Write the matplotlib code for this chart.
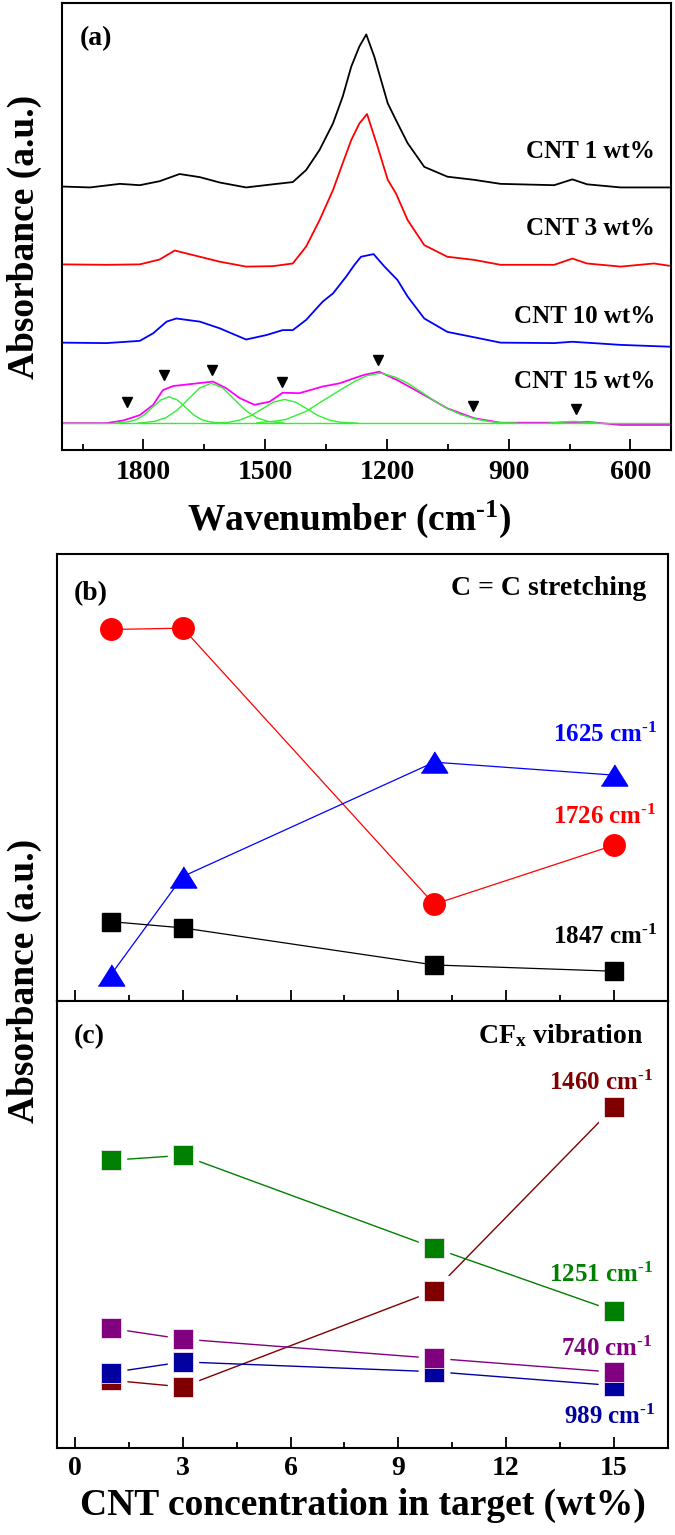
import matplotlib.pyplot as plt
from matplotlib.ticker import MultipleLocator

plt.rcParams['font.family'] = 'Liberation Serif'
plt.rcParams['font.weight'] = 'bold'
plt.rcParams['mathtext.fontset'] = 'custom'
plt.rcParams['mathtext.rm'] = 'Liberation Serif:bold'
plt.rcParams['mathtext.it'] = 'Liberation Serif:bold'
plt.rcParams['mathtext.bf'] = 'Liberation Serif:bold'

# ---- panel (a): FTIR spectra (absorbance, a.u., offset as drawn) ----
wn_1 = [2000, 1932, 1858, 1809, 1760, 1711, 1661, 1612, 1547, 1481, 1432, 1399, 1366, 1333,
        1309, 1288, 1268, 1251, 1231, 1198, 1178, 1149, 1108, 1051, 985, 920, 788, 743, 707, 624, 505]
abs_1 = [0.589, 0.587, 0.595, 0.592, 0.601, 0.617, 0.610, 0.598, 0.587, 0.594, 0.599, 0.626, 0.671, 0.730,
         0.790, 0.857, 0.902, 0.929, 0.879, 0.775, 0.738, 0.686, 0.633, 0.611, 0.604, 0.595, 0.592, 0.605, 0.594, 0.587, 0.587]

wn_3 = [2000, 1891, 1809, 1760, 1723, 1661, 1612, 1547, 1481, 1432, 1399, 1366, 1333, 1309, 1288,
        1268, 1249, 1223, 1198, 1178, 1149, 1108, 1051, 985, 920, 788, 743, 707, 624, 542, 505]
abs_3 = [0.415, 0.414, 0.415, 0.426, 0.446, 0.432, 0.421, 0.410, 0.411, 0.417, 0.455, 0.514, 0.581, 0.641, 0.693,
         0.730, 0.751, 0.678, 0.604, 0.574, 0.514, 0.458, 0.432, 0.425, 0.414, 0.414, 0.428, 0.417, 0.410, 0.417, 0.412]

wn_10 = [2000, 1891, 1809, 1776, 1743, 1719, 1661, 1612, 1547, 1497, 1457, 1432, 1399, 1358, 1333, 1301,
         1280, 1264, 1233, 1206, 1174, 1149, 1108, 1051, 985, 920, 788, 743, 624, 505]
abs_10 = [0.240, 0.239, 0.244, 0.261, 0.287, 0.294, 0.287, 0.272, 0.247, 0.257, 0.268, 0.268, 0.291, 0.332, 0.350, 0.387,
          0.414, 0.432, 0.438, 0.410, 0.380, 0.343, 0.294, 0.264, 0.252, 0.240, 0.239, 0.242, 0.235, 0.231]

wn_15 = [2000, 1891, 1850, 1809, 1776, 1752, 1727, 1678, 1629, 1596, 1563, 1526, 1489, 1457, 1416, 1358,
         1317, 1276, 1256, 1219, 1174, 1116, 1051, 985, 920, 788, 707, 624, 505]
abs_15 = [0.060, 0.060, 0.066, 0.078, 0.101, 0.134, 0.143, 0.148, 0.153, 0.138, 0.116, 0.101, 0.108, 0.128, 0.127, 0.142,
          0.149, 0.162, 0.168, 0.175, 0.156, 0.127, 0.093, 0.071, 0.061, 0.061, 0.063, 0.056, 0.056]

# fitted components of the CNT 15 wt% spectrum
base_wn = [2000, 500]
base_abs = [0.060, 0.060]
fit_wn = [
    [1867, 1837, 1817, 1797, 1777, 1757, 1737, 1717, 1697, 1677, 1657, 1637, 1607],
    [1813, 1773, 1745, 1717, 1689, 1661, 1633, 1605, 1577, 1549, 1521, 1493, 1453],
    [1632, 1590, 1562, 1535, 1507, 1480, 1452, 1425, 1397, 1370, 1342, 1315, 1272],
    [1520, 1480, 1450, 1400, 1358, 1317, 1280, 1250, 1215, 1180, 1150, 1116, 1080, 1051, 1020, 985, 950, 920, 880],
    [800, 760, 740, 720, 680],
]
fit_abs = [
    [0.060, 0.063, 0.068, 0.079, 0.096, 0.112, 0.119, 0.112, 0.096, 0.079, 0.068, 0.063, 0.060],
    [0.060, 0.064, 0.072, 0.089, 0.114, 0.139, 0.149, 0.139, 0.114, 0.089, 0.072, 0.064, 0.060],
    [0.060, 0.062, 0.067, 0.077, 0.092, 0.107, 0.113, 0.107, 0.092, 0.077, 0.067, 0.062, 0.060],
    [0.061, 0.064, 0.068, 0.086, 0.110, 0.133, 0.153, 0.166, 0.172, 0.163, 0.150, 0.130, 0.108, 0.093, 0.080, 0.070, 0.064, 0.061, 0.060],
    [0.060, 0.063, 0.064, 0.063, 0.060],
]
mark_wn = [1840, 1750, 1630, 1459, 1221, 987, 734]
mark_abs = [0.108, 0.168, 0.179, 0.153, 0.201, 0.098, 0.092]

# ---- panels (b) and (c): band absorbance vs CNT content ----
cnt = [1, 3, 10, 15]
b_1726 = [0.831, 0.834, 0.216, 0.348]
b_1625 = [0.058, 0.278, 0.534, 0.505]
b_1847 = [0.177, 0.163, 0.080, 0.066]

c_1460 = [0.151, 0.136, 0.351, 0.762]
c_989 = [0.168, 0.192, 0.170, 0.139]
c_740 = [0.267, 0.243, 0.200, 0.169]
c_1251 = [0.643, 0.654, 0.447, 0.306]

W, H = 675, 1535
fig = plt.figure(figsize=(W / 100, H / 100), dpi=100)

INV_CM = r'cm$^{\text{-1}}$'


def rect(x0, y0, x1, y1):
    return [x0 / W, 1 - y1 / H, (x1 - x0) / W, (y1 - y0) / H]


def frame(ax):
    for s in ax.spines.values():
        s.set_linewidth(1.5)
    ax.tick_params(axis='x', which='both', direction='in', top=False, labelsize=20, width=1.3)
    ax.tick_params(axis='x', which='major', length=8)
    ax.tick_params(axis='x', which='minor', length=4)
    ax.set_yticks([])


# (a)
ax_a = fig.add_axes(rect(62.3, 2.7, 671, 450))
ax_a.plot(wn_1, abs_1, color='black', lw=1.3)
ax_a.plot(wn_3, abs_3, color='red', lw=1.3)
ax_a.plot(wn_10, abs_10, color='blue', lw=1.3)
ax_a.plot(base_wn, base_abs, color='#33ee33', lw=1.0)
for xs, ys in zip(fit_wn, fit_abs):
    ax_a.plot(xs, ys, color='#33ee33', lw=1.0)
ax_a.plot(wn_15, abs_15, color='magenta', lw=1.3, zorder=1)
ax_a.plot(mark_wn, mark_abs, 'v', color='black', ms=7, ls='none')
ax_a.set_xlim(2000, 500)
ax_a.set_ylim(0, 1)
ax_a.xaxis.set_major_locator(MultipleLocator(300))
ax_a.xaxis.set_minor_locator(MultipleLocator(150))
frame(ax_a)
ax_a.tick_params(axis='x', pad=7)
ax_a.text(0.028, 0.905, '(a)', transform=ax_a.transAxes, fontsize=20, ha='left', va='baseline')
for lab, yy in [('CNT 1 wt%', 0.652), ('CNT 3 wt%', 0.481), ('CNT 10 wt%', 0.283), ('CNT 15 wt%', 0.138)]:
    ax_a.text(0.974, yy, lab, transform=ax_a.transAxes, fontsize=18, ha='right', va='baseline')
fig.text(349 / W, 1 - 530 / H, 'Wavenumber (' + INV_CM + ')', fontsize=27, ha='center', va='baseline')
fig.text(24 / W, 1 - 237 / H, 'Absorbance (a.u.)', fontsize=27, rotation=90, ha='center', va='center')

# (b)
ax_b = fig.add_axes(rect(57, 554, 667.7, 1000.7))
ax_b.plot(cnt, b_1726, '-o', color='red', lw=0.9, ms=15.5)
ax_b.plot(cnt, b_1625, '-', color='blue', lw=0.9,
          marker=[(-1, -0.8), (1, -0.8), (0, 0.8)], ms=19)
ax_b.plot(cnt, b_1847, '-s', color='black', lw=0.9, ms=13.5)
ax_b.set_xlim(-0.5, 16.5)
ax_b.set_ylim(0, 1)
ax_b.xaxis.set_major_locator(MultipleLocator(3))
ax_b.xaxis.set_minor_locator(MultipleLocator(1.5))
frame(ax_b)
ax_b.tick_params(axis='x', labelbottom=False)
ax_b.text(0.028, 0.897, '(b)', transform=ax_b.transAxes, fontsize=20, ha='left', va='baseline')
ax_b.text(0.9656, 0.908, 'C = C stretching', transform=ax_b.transAxes, fontsize=20, ha='right', va='baseline')
ax_b.text(0.982, 0.580, '1625 ' + INV_CM, transform=ax_b.transAxes, fontsize=18, color='blue', ha='right', va='baseline')
ax_b.text(0.982, 0.396, '1726 ' + INV_CM, transform=ax_b.transAxes, fontsize=18, color='red', ha='right', va='baseline')
ax_b.text(0.982, 0.126, '1847 ' + INV_CM, transform=ax_b.transAxes, fontsize=18, color='black', ha='right', va='baseline')

# (c)
ax_c = fig.add_axes(rect(57, 1000.7, 667.7, 1447.7))
series_c = [(c_1460, '#800000'), (c_989, '#0000A0'), (c_740, '#800080'), (c_1251, '#008000')]
for vals, col in series_c:
    ax_c.plot(cnt, vals, '-', color=col, lw=1.0, zorder=2)
for vals, col in series_c:
    ax_c.plot(cnt, vals, 's', color='white', ms=22, ls='none', zorder=3)
for k, (vals, col) in enumerate(series_c):
    ax_c.plot(cnt, vals, 's', color=col, mec='#f0e0f0', mew=0.6, ms=14.5, ls='none', zorder=4 + k)
ax_c.set_xlim(-0.5, 16.5)
ax_c.set_ylim(0, 1)
ax_c.xaxis.set_major_locator(MultipleLocator(3))
ax_c.xaxis.set_minor_locator(MultipleLocator(1.5))
frame(ax_c)
ax_c.tick_params(axis='x', pad=6)
ax_c.text(0.028, 0.905, '(c)', transform=ax_c.transAxes, fontsize=20, ha='left', va='baseline')
ax_c.text(0.960, 0.905, r'CF$_{x}$ vibration', transform=ax_c.transAxes, fontsize=20, ha='right', va='baseline')
ax_c.text(0.976, 0.800, '1460 ' + INV_CM, transform=ax_c.transAxes, fontsize=18, color='#800000', ha='right', va='baseline')
ax_c.text(0.976, 0.370, '1251 ' + INV_CM, transform=ax_c.transAxes, fontsize=18, color='#008000', ha='right', va='baseline')
ax_c.text(0.976, 0.205, '740 ' + INV_CM, transform=ax_c.transAxes, fontsize=18, color='#800080', ha='right', va='baseline')
ax_c.text(0.980, 0.052, '989 ' + INV_CM, transform=ax_c.transAxes, fontsize=18, color='#0000A0', ha='right', va='baseline')
fig.text(363 / W, 1 - 1515 / H, 'CNT concentration in target (wt%)', fontsize=27, ha='center', va='baseline')
fig.text(24 / W, 1 - 981 / H, 'Absorbance (a.u.)', fontsize=27, rotation=90, ha='center', va='center')

fig.savefig('out.png', dpi=100)
